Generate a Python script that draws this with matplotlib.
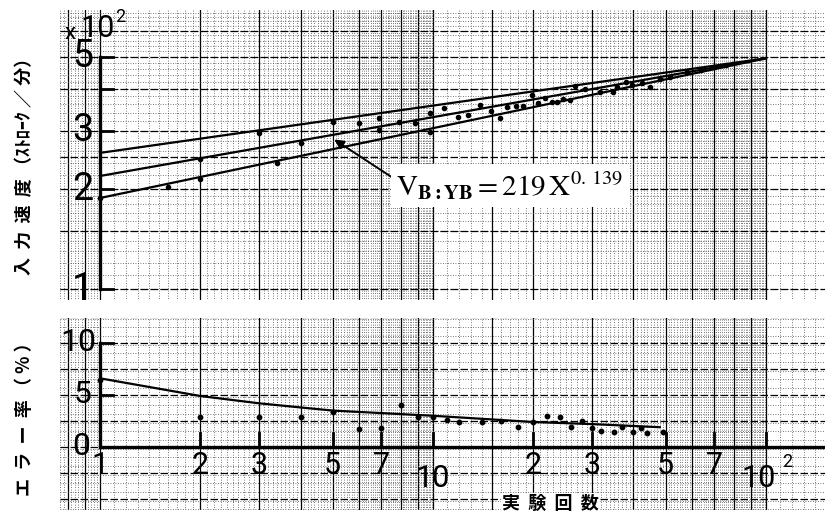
import numpy as np
import matplotlib.pyplot as plt

plt.rcParams['mathtext.fontset'] = 'stix'

# upper panel: input speed (strokes/min) vs trial count, log-log
fit_x = [1, 100]
upper_fit = [257, 495]
mid_fit = [219, 495]
lower_fit = [188, 495]

speed_x = [1, 1.6, 2, 2, 3, 3.4, 4, 5, 6, 6.9, 6.9, 7.9, 8.8, 9.8, 9.8, 10.8, 11.9, 12.7,
           13.8, 14.9, 15.9, 16.7, 17.7, 18.6, 19.8, 20.7, 21.7, 22.8, 23.5, 24.5, 25.8,
           26.7, 28.7, 31.7, 34.8, 35.8, 38.1, 39.6, 42.5, 44.9, 48, 51.5, 58, 64, 70, 76]
speed_y = [188, 203, 214, 247, 295, 240, 275, 318, 316, 327, 302, 318, 316, 339, 297, 351,
           330, 334, 358, 344, 327, 353, 356, 356, 384, 363, 376, 366, 366, 373, 371, 409,
           400, 392, 392, 406, 420, 412, 417, 405, 429, 435, 450, 457, 466, 473]

# lower panel: error rate (%)
err_x = [1, 2, 3, 4, 5, 6, 7, 8, 9, 10, 11, 12, 14, 16, 18, 20, 22, 24, 26, 28,
         30, 32, 35, 37, 40, 42, 44, 49]
err_y = [6.4, 2.9, 2.9, 2.9, 3.4, 1.7, 1.8, 4.0, 2.9, 2.9, 2.6, 2.4, 2.4, 2.5, 1.9,
         2.4, 3.0, 2.9, 1.9, 2.5, 1.8, 1.5, 1.4, 1.9, 1.4, 1.8, 1.3, 1.4]
err_fit_x = [1, 2, 3, 4, 5, 10, 20, 30, 48]
err_fit_y = [6.6, 4.9, 4.2, 3.8, 3.5, 3.0, 2.4, 2.2, 1.9]

speed_ticks = [100, 200, 300, 400, 500]
speed_labels = {500: '5', 300: '3', 200: '2', 100: '1'}
err_ticks = [5, 10]
x_ticks = [2, 3, 5, 7, 10, 20, 30, 50, 70, 100]
x_labels = {1: '1', 2: '2', 3: '3', 5: '5', 7: '7', 20: '2', 30: '3', 50: '5', 70: '7'}

XLIM = (0.758, 150.4)
NUM = dict(family=['Liberation Sans Narrow', 'Roboto', 'DejaVu Sans'], fontweight='normal')
JP = ['Noto Sans CJK JP', 'DejaVu Sans']

fig = plt.figure(figsize=(8.25, 5.14), dpi=100)
ax1 = fig.add_axes([60 / 825, 1 - 300 / 514, 765 / 825, 290 / 514])
ax2 = fig.add_axes([60 / 825, 1 - 510 / 514, 765 / 825, 192 / 514])


def paper_x(ax, lo, hi):
    # log paper verticals
    minor = np.concatenate([np.arange(0.76, 1, 0.02), np.arange(1, 10, 0.1),
                            np.arange(10, 100, 1), np.arange(100, 151, 10)])
    ax.vlines(minor, lo, hi, colors='0.3', lw=0.6, linestyles=(0, (1, 2)), zorder=0)
    major = [0.8, 0.9] + list(range(1, 11)) + [15] + list(range(20, 101, 10))
    ax.vlines(major, lo, hi, colors='black', lw=0.9, zorder=0)


for ax in (ax1, ax2):
    ax.set_xscale('log')
    ax.set_xlim(*XLIM)
    for s in ax.spines.values():
        s.set_visible(False)
    ax.set_xticks([])
    ax.set_yticks([])
    ax.minorticks_off()

# ---- top panel ----
ax1.set_yscale('log')
ax1.set_ylim(92.7, 692)
ax1.set_yticks([])
ax1.minorticks_off()
paper_x(ax1, 80, 800)
ax1.hlines(np.concatenate([np.arange(90, 200, 10), np.arange(200, 700, 20)]), *XLIM,
           colors='0.3', lw=0.6, linestyles=(0, (1, 2)), zorder=0)
ax1.hlines([100, 150, 200, 250, 300, 400, 500, 600], *XLIM, colors='black', lw=0.9,
           linestyles=(0, (6, 2)), zorder=0)

for fy in (upper_fit, mid_fit, lower_fit):
    ax1.plot(fit_x, fy, color='black', lw=1.6, zorder=3)
ax1.scatter(speed_x, speed_y, s=9, color='black', zorder=4)

ax1.plot([1, 1], [100, 500], color='black', lw=2.4, zorder=5)
for v in speed_ticks:
    ax1.plot([1, 1.09], [v, v], color='black', lw=2, zorder=5)
for v, t in speed_labels.items():
    ax1.text(0.885, v, t, fontsize=27, ha='center', va='center', zorder=6, **NUM)
ax1.text(0.81, 590, 'x', fontsize=16, ha='center', va='center', zorder=6, **NUM)
ax1.text(0.985, 608, '10', fontsize=22, ha='center', va='center', zorder=6, **NUM)
ax1.text(1.15, 660, '2', fontsize=13, ha='center', va='center', zorder=6, **NUM)

ax1.annotate('', xy=(4.97, 285), xytext=(7.8, 212),
             arrowprops=dict(arrowstyle='-|>', color='black', lw=1.4, mutation_scale=14),
             zorder=6)
ax1.text(7.75, 205, r'$\mathrm{V}_{\mathbf{B:YB}}=219\,\mathrm{X}^{0.\,139}$', fontsize=21,
         ha='left', va='center', zorder=7,
         bbox=dict(facecolor='white', edgecolor='none', pad=4))

# ---- bottom panel ----
ax2.set_ylim(-6.06, 12.4)
paper_x(ax2, -7, 13)
ax2.hlines(np.arange(-6, 12.5, 2.5 / 3), *XLIM, colors='0.3', lw=0.6,
           linestyles=(0, (1, 2)), zorder=0)
ax2.hlines(np.arange(-5, 12.6, 2.5), *XLIM, colors='black', lw=0.9,
           linestyles=(0, (6, 2)), zorder=0)

ax2.plot(err_fit_x, err_fit_y, color='black', lw=1.6, zorder=3)
ax2.scatter(err_x, err_y, s=10, color='black', zorder=4)

ax2.plot([1, 1], [0, 10], color='black', lw=2.4, zorder=5)
ax2.plot([1, XLIM[1]], [0, 0], color='black', lw=2.4, zorder=5)
for v in err_ticks:
    ax2.plot([1, 1.09], [v, v], color='black', lw=2, zorder=5)
for v in x_ticks:
    ax2.plot([v, v], [0, 1.3], color='black', lw=2, zorder=5)
ax2.text(0.86, 10, '10', fontsize=23, ha='center', va='center', zorder=6, **NUM)
ax2.text(0.885, 5, '5', fontsize=23, ha='center', va='center', zorder=6, **NUM)
ax2.text(0.875, 0, '0', fontsize=23, ha='center', va='center', zorder=6, **NUM)
for v, t in x_labels.items():
    ax2.text(v, -1.8, t, fontsize=22, ha='center', va='center', zorder=6, **NUM)
ax2.text(10, -3.0, '10', fontsize=22, ha='center', va='center', zorder=6, **NUM)
ax2.text(95, -3.0, '10', fontsize=22, ha='center', va='center', zorder=6, **NUM)
ax2.text(116, -1.4, '2', fontsize=13, ha='center', va='center', zorder=6, **NUM)

# axis titles
fig.text(25 / 825, 1 - 162 / 514, '入  力  速  度 （ｽﾄﾛｰｸ ／ 分）', rotation=90, fontsize=13,
         fontweight='bold', family=JP, ha='center', va='center')
fig.text(25 / 825, 1 - 415 / 514, 'エ  ラ  ー  率 （ % ）', rotation=90, fontsize=13,
         fontweight='bold', family=JP, ha='center', va='center')
fig.text(550 / 825, 1 - 503 / 514, '実  験  回  数', fontsize=13, fontweight='bold',
         family=JP, ha='center', va='center',
         bbox=dict(facecolor='white', edgecolor='none', pad=0.5))

fig.savefig('out.png', dpi=100, facecolor='white')
